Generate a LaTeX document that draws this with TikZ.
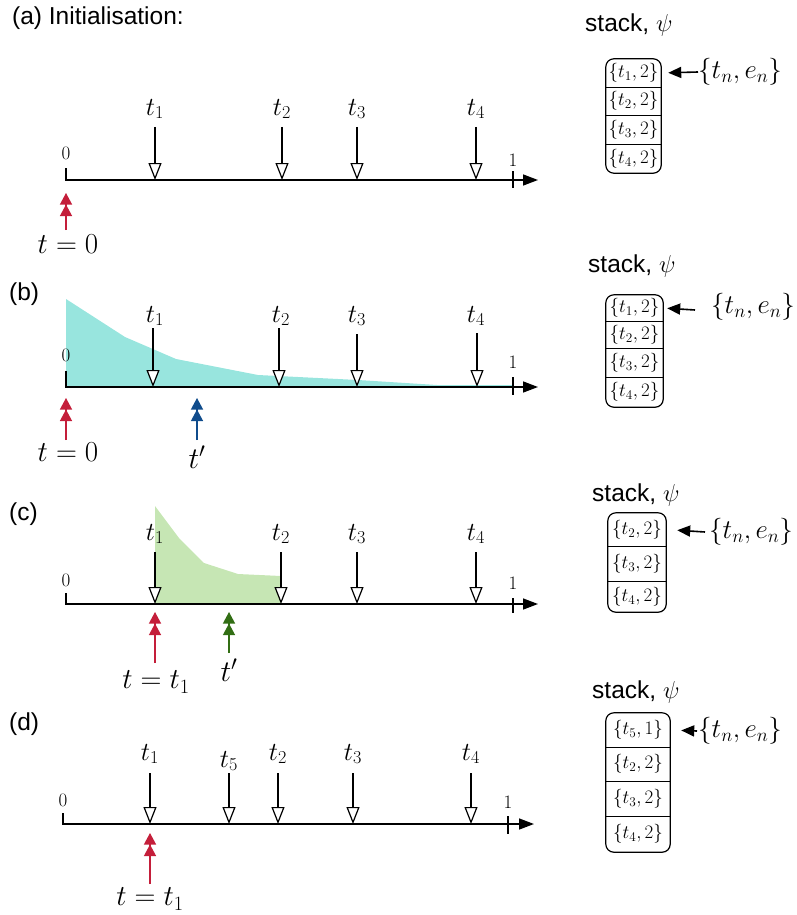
\RequirePackage{fix-cm}
\documentclass[tikz,border=0pt]{standalone}
\usepackage{fontspec}
\newfontfamily\hsans{Liberation Sans}
\usetikzlibrary{arrows.meta}
\definecolor{redA}{RGB}{196,30,58}
\definecolor{blueA}{RGB}{16,76,140}
\definecolor{greenA}{RGB}{50,110,20}
\definecolor{cyanF}{RGB}{152,229,222}
\definecolor{greenF}{RGB}{198,230,180}
\begin{document}
\begin{tikzpicture}[x=1pt,y=-1pt,
  axis/.style={line width=1.5pt,-{Triangle[length=15pt,width=11pt]}},
  tickline/.style={line width=1.3pt},
  marker/.style={line width=1.2pt,-{Triangle[length=17pt,width=13pt,fill=white,line width=1.2pt]}},
  tlab/.style={font=\fontsize{26}{30}\selectfont, inner sep=0pt},
  numlab/.style={font=\fontsize{19}{22}\selectfont, inner sep=0pt},
  poslab/.style={font=\fontsize{29}{33}\selectfont, inner sep=0pt},
  tprime/.style={font=\fontsize{30}{34}\selectfont, inner sep=0pt},
  pointer/.style={line width=1.2pt, -{Triangle[length=11.5pt,width=12pt,sep=0pt]Triangle[length=11.5pt,width=12pt]}},
  title/.style={font=\hsans\fontsize{24.5}{28}\selectfont, inner sep=0pt, anchor=base west},
  cell/.style={inner sep=0pt, font=\fontsize{19}{22}\selectfont},
  stackbox/.style={line width=1.2pt, rounded corners=8pt},
  divider/.style={line width=1.2pt},
  stackptr/.style={line width=1.6pt, -{Triangle[length=13pt,width=11pt]}},
  tnlab/.style={font=\fontsize{27}{30}\selectfont, inner sep=0pt, anchor=west}
]
\useasboundingbox (0,0) rectangle (797,915);

% ================= (a) =================
\node[title] (a-title) at (12,25) {(a) Initialisation:};
\coordinate (a-ot) at (66,168);
\coordinate (a-o) at (66,180);
\coordinate (a-e) at (538,180);
\draw[axis] (a-ot) -- (a-o) -- (a-e);
\node[numlab] (a-zero) at (66,153) {$0$};
\node[numlab] (a-one) at (513,160) {$1$};
\coordinate (a-1t) at (513,171);
\coordinate (a-1b) at (513,188);
\draw[tickline] (a-1t) -- (a-1b);
\foreach \n/\x in {1/155,2/282,3/357,4/476}{
  \node[tlab] (a-l\n) at (\x,109) {$t_{\n}$};
  \coordinate (a-s\n) at (\x,127);
  \coordinate (a-b\n) at (\x,180);
  \draw[marker] (a-s\n) -- (a-b\n);
}
\coordinate (a-pt) at (66,230);
\coordinate (a-ph) at (66,193);
\draw[pointer, redA] (a-pt) -- (a-ph);
\node[poslab] (a-plab) at (68,244) {$t=0$};

\node[title] (a-st) at (585,32) {stack, $\psi$};
\node[cell, minimum width=55pt, minimum height=28pt] (a-c1) at (633.5,73) {$\{t_1,2\}$};
\node[cell, minimum width=55pt, minimum height=28pt] (a-c2) at (633.5,101) {$\{t_2,2\}$};
\node[cell, minimum width=55pt, minimum height=29pt] (a-c3) at (633.5,129.5) {$\{t_3,2\}$};
\node[cell, minimum width=55pt, minimum height=29pt] (a-c4) at (633.5,158.5) {$\{t_4,2\}$};
\draw[stackbox] (a-c1.north west) rectangle (a-c4.south east);
\draw[divider] (a-c1.south west) -- (a-c1.south east);
\draw[divider] (a-c2.south west) -- (a-c2.south east);
\draw[divider] (a-c3.south west) -- (a-c3.south east);
\node[tnlab] (a-tn) at (698,72) {$\{t_n,e_n\}$};
\draw[stackptr, shorten >=7pt] (a-tn.west) -- (a-c1.east);

% ================= (b) =================
\node[title] (b-title) at (9,300) {(b)};
\fill[cyanF] (66,387) -- (66,299) -- (125,337) -- (176,359) -- (258,375) -- (358,380) -- (437,385) -- (513,385) -- (513,387) -- cycle;
\coordinate (b-ot) at (66,371);
\coordinate (b-o) at (66,387);
\coordinate (b-e) at (538,387);
\draw[axis] (b-ot) -- (b-o) -- (b-e);
\node[numlab] (b-zero) at (66,355) {$0$};
\node[numlab] (b-one) at (513,362) {$1$};
\coordinate (b-1t) at (513,377);
\coordinate (b-1b) at (513,395);
\draw[tickline] (b-1t) -- (b-1b);
\foreach \n/\x/\lx/\top in {1/153/155/328,2/279/281/328,3/357/357/334,4/477/476/333}{
  \node[tlab] (b-l\n) at (\lx,316) {$t_{\n}$};
  \coordinate (b-s\n) at (\x,\top);
  \coordinate (b-b\n) at (\x,387);
  \draw[marker] (b-s\n) -- (b-b\n);
}
\coordinate (b-pt) at (66,440);
\coordinate (b-ph) at (66,398);
\draw[pointer, redA] (b-pt) -- (b-ph);
\node[poslab] (b-plab) at (68,452) {$t=0$};
\coordinate (b-qt) at (197,440);
\coordinate (b-qh) at (197,398);
\draw[pointer, blueA] (b-qt) -- (b-qh);
\node[tprime] (b-qlab) at (197,457) {$t'$};

\node[title] (b-st) at (588,272) {stack, $\psi$};
\node[cell, minimum width=57pt, minimum height=26pt] (b-c1) at (634.5,308) {$\{t_1,2\}$};
\node[cell, minimum width=57pt, minimum height=27pt] (b-c2) at (634.5,334.5) {$\{t_2,2\}$};
\node[cell, minimum width=57pt, minimum height=29pt] (b-c3) at (634.5,362.5) {$\{t_3,2\}$};
\node[cell, minimum width=57pt, minimum height=30pt] (b-c4) at (634.5,392) {$\{t_4,2\}$};
\draw[stackbox] (b-c1.north west) rectangle (b-c4.south east);
\draw[divider] (b-c1.south west) -- (b-c1.south east);
\draw[divider] (b-c2.south west) -- (b-c2.south east);
\draw[divider] (b-c3.south west) -- (b-c3.south east);
\node[tnlab] (b-tn) at (711,307) {$\{t_n,e_n\}$};
\coordinate (b-ps) at (695,310);
\draw[stackptr, shorten >=4pt] (b-ps) -- (b-c1.east);

% ================= (c) =================
\node[title] (c-title) at (9,520) {(c)};
\fill[greenF] (155,604) -- (155,506) -- (179,538) -- (204,563) -- (238,574) -- (281,576) -- (281,604) -- cycle;
\coordinate (c-ot) at (66,593);
\coordinate (c-o) at (66,604);
\coordinate (c-e) at (538,604);
\draw[axis] (c-ot) -- (c-o) -- (c-e);
\node[numlab] (c-zero) at (66,580) {$0$};
\node[numlab] (c-one) at (513,583) {$1$};
\coordinate (c-1t) at (513,598);
\coordinate (c-1b) at (513,613);
\draw[tickline] (c-1t) -- (c-1b);
\foreach \n/\x in {1/155,2/281,3/357,4/476}{
  \node[tlab] (c-l\n) at (\x,534) {$t_{\n}$};
  \coordinate (c-s\n) at (\x,552);
  \coordinate (c-b\n) at (\x,604);
  \draw[marker] (c-s\n) -- (c-b\n);
}
\coordinate (c-pt) at (155,663);
\coordinate (c-ph) at (155,612);
\draw[pointer, redA] (c-pt) -- (c-ph);
\node[poslab] (c-plab) at (156,682) {$t=t_1$};
\coordinate (c-qt) at (229,653);
\coordinate (c-qh) at (229,612);
\draw[pointer, greenA] (c-qt) -- (c-qh);
\node[tprime] (c-qlab) at (229,670) {$t'$};

\node[title] (c-st) at (592,501) {stack, $\psi$};
\node[cell, minimum width=58pt, minimum height=33pt] (c-c1) at (637,529.5) {$\{t_2,2\}$};
\node[cell, minimum width=58pt, minimum height=35pt] (c-c2) at (637,563.5) {$\{t_3,2\}$};
\node[cell, minimum width=58pt, minimum height=31pt] (c-c3) at (637,596.5) {$\{t_4,2\}$};
\draw[stackbox] (c-c1.north west) rectangle (c-c3.south east);
\draw[divider] (c-c1.south west) -- (c-c1.south east);
\draw[divider] (c-c2.south west) -- (c-c2.south east);
\node[tnlab] (c-tn) at (709,532) {$\{t_n,e_n\}$};
\coordinate (c-ps) at (705,532);
\draw[stackptr, shorten >=11pt] (c-ps) -- (c-c1.east);

% ================= (d) =================
\node[title] (d-title) at (9,730) {(d)};
\coordinate (d-ot) at (63,813);
\coordinate (d-o) at (63,824);
\coordinate (d-e) at (534,824);
\draw[axis] (d-ot) -- (d-o) -- (d-e);
\node[numlab] (d-zero) at (63,800) {$0$};
\node[numlab] (d-one) at (508,802) {$1$};
\coordinate (d-1t) at (508,816);
\coordinate (d-1b) at (508,834);
\draw[tickline] (d-1t) -- (d-1b);
\foreach \n/\x/\ly in {1/150/754,5/229/761,2/278/754,3/353/754,4/471/754}{
  \node[tlab] (d-l\n) at (\x,\ly) {$t_{\n}$};
  \coordinate (d-s\n) at (\x,773);
  \coordinate (d-b\n) at (\x,824);
  \draw[marker] (d-s\n) -- (d-b\n);
}
\coordinate (d-pt) at (150,884);
\coordinate (d-ph) at (150,833);
\draw[pointer, redA] (d-pt) -- (d-ph);
\node[poslab] (d-plab) at (150,899) {$t=t_1$};

\node[title] (d-st) at (592,698) {stack, $\psi$};
\node[cell, minimum width=64pt, minimum height=34pt] (d-c1) at (638,730) {$\{t_5,1\}$};
\node[cell, minimum width=64pt, minimum height=34pt] (d-c2) at (638,764) {$\{t_2,2\}$};
\node[cell, minimum width=64pt, minimum height=35pt] (d-c3) at (638,798.5) {$\{t_3,2\}$};
\node[cell, minimum width=64pt, minimum height=36pt] (d-c4) at (638,834) {$\{t_4,2\}$};
\draw[stackbox] (d-c1.north west) rectangle (d-c4.south east);
\draw[divider] (d-c1.south west) -- (d-c1.south east);
\draw[divider] (d-c2.south west) -- (d-c2.south east);
\draw[divider] (d-c3.south west) -- (d-c3.south east);
\node[tnlab] (d-tn) at (698,731) {$\{t_n,e_n\}$};
\coordinate (d-ps) at (697,731);
\draw[stackptr, shorten >=11pt] (d-ps) -- (d-c1.east);
\end{tikzpicture}
\end{document}
